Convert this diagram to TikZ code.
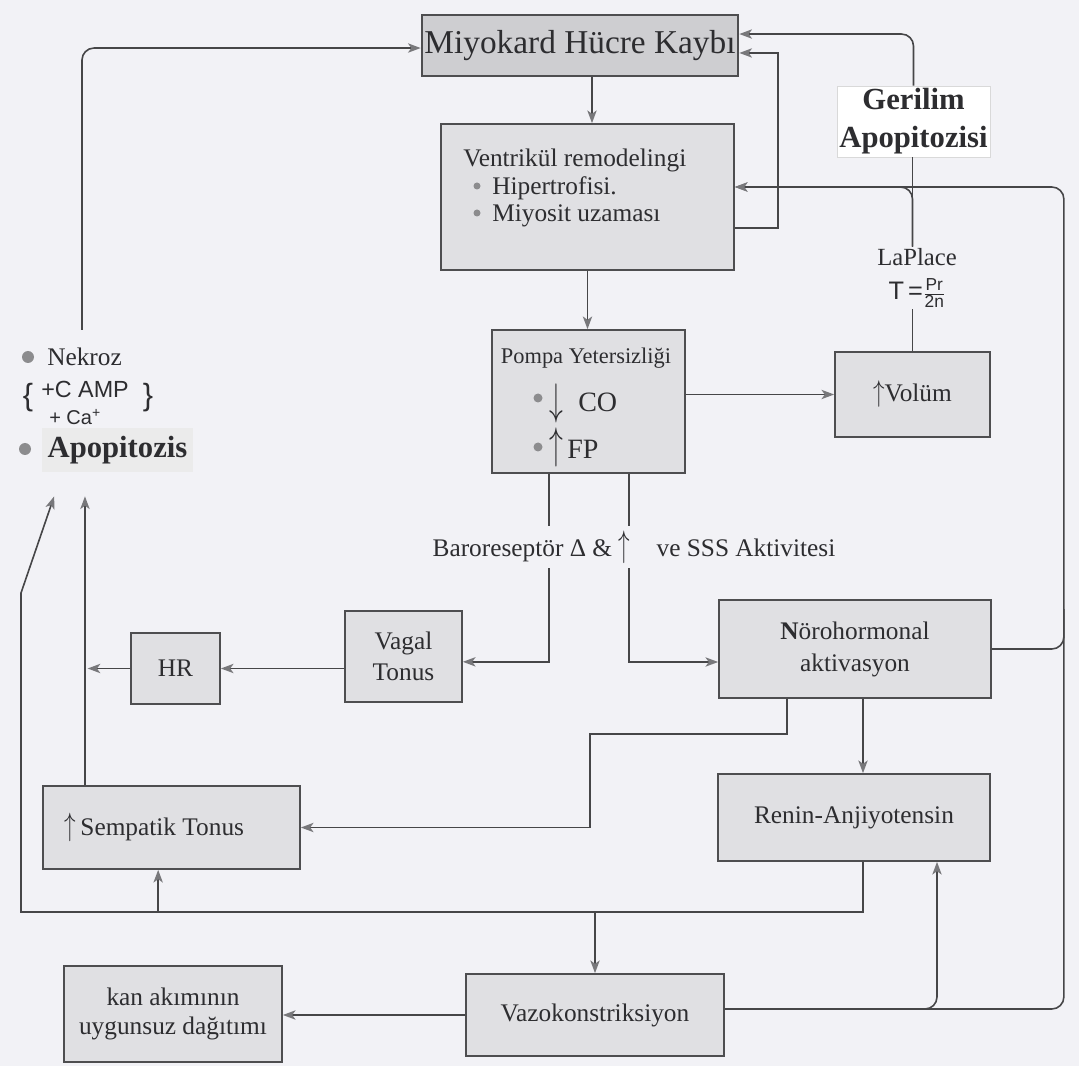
\documentclass[tikz,border=0pt]{standalone}
\usepackage{fontspec}
\setmainfont{Liberation Serif}
\newfontfamily\sansf{Liberation Sans}
\usetikzlibrary{arrows.meta,calc}
\definecolor{bgc}{RGB}{242,242,246}
\definecolor{boxfill}{RGB}{224,224,227}
\definecolor{boxline}{RGB}{78,78,80}
\definecolor{linec}{RGB}{70,70,72}
\definecolor{arrc}{RGB}{120,120,123}
\definecolor{textc}{RGB}{45,45,48}
\definecolor{bulletc}{RGB}{140,140,142}
\newcommand\fsz[2]{\fontsize{#1}{#2}\selectfont}
\tikzset{
  box/.style 2 args={draw=boxline, fill=boxfill, line width=1.3pt,
    minimum width=#1*0.75pt, minimum height=#2*0.75pt, inner sep=0pt, align=center},
  conn/.style={draw=linec, line width=1.2pt},
  arr/.style={conn, -{Stealth[length=9.5pt,width=7pt,inset=2.5pt,color=arrc]}},
  dotn/.style={circle, fill=bulletc, inner sep=0pt, minimum size=#1*0.75pt},
}
\begin{document}
\begin{tikzpicture}[x=0.75pt,y=-0.75pt, every node/.style={text=textc, font=\fsz{19}{23}}]
\fill[bgc] (0,0) rectangle (1079,1066);
\useasboundingbox (0,0) rectangle (1079,1066);

% boxes
\node[box={316}{61}, fill=boxfill!92!black, line width=2pt, font=\fsz{25}{30}] (miy) at (580,45.5) {Miyokard Hücre Kaybı};
\node[box={293}{146}] (ven) at (587.5,197) {};
\node[anchor=west, inner sep=0pt] (vt1) at (463,160) {Ventrikül remodelingi};
\node[dotn=7] (vb1) at (477,186) {};
\node[anchor=west, inner sep=0pt] (vt2) at (492,188) {Hipertrofisi.};
\node[dotn=7] (vb2) at (477,213) {};
\node[anchor=west, inner sep=0pt] (vt3) at (492,216) {Miyosit uzaması};

\node[box={193}{143}] (pom) at (588.5,401.5) {};
\node[inner sep=0pt, font=\fsz{16.8}{20}] (pt) at (586,358) {Pompa Yetersizliği};
\node[dotn=9] (pb1) at (538,398) {};
\node[inner sep=0pt, font=\fsz{20}{20}] (pa1) at (556,403) {\scalebox{1}[1.6]{$\downarrow$}};
\node[anchor=west, inner sep=0pt, font=\fsz{21}{24}] (pco) at (578,402) {CO};
\node[dotn=9] (pb2) at (538,447) {};
\node[inner sep=0pt, font=\fsz{20}{20}] (pa2) at (556,447) {\scalebox{1}[1.6]{$\uparrow$}};
\node[anchor=west, inner sep=0pt, font=\fsz{21}{24}] (pfp) at (567,449) {FP};

\node[box={155}{85}] (vol) at (912.5,394.5) {\scalebox{1}[1.3]{$\uparrow$}Volüm};
\node[box={153}{71}, fill=white, draw=gray!30, line width=0.5pt, font=\bfseries\fsz{23}{28.5}] (ger) at (913.5,121.5) {Gerilim\\Apopitozisi};
\node[inner sep=1pt, align=center, font=\fsz{18.5}{22}] (lap) at (917,278) {LaPlace\\[4pt]{\sansf\fsz{19}{19}T\,=}$\frac{\mbox{\sansf\fsz{13}{13}Pr}}{\mbox{\sansf\fsz{13}{13}2n}}$};

\node[box={117}{91}] (vag) at (403.5,656.5) {Vagal\\Tonus};
\node[box={89}{71}] (hr) at (175.5,668.5) {HR};
\node[box={272}{98}, font=\fsz{19}{24}] (nor) at (855,649) {\textbf{N}örohormonal\\aktivasyon};
\node[box={272}{87}] (ren) at (854,817.5) {Renin-Anjiyotensin};
\node[box={257}{83}] (sem) at (171.5,827.5) {};
\node[anchor=west] (st) at (60,827) {\scalebox{1}[1.4]{$\uparrow$}\,Sempatik Tonus};
\node[box={258}{82}] (vaz) at (595,1015) {Vazokonstriksiyon};
\node[box={218}{96}, font=\fsz{19}{22}] (kan) at (173,1014) {kan akımının\\uygunsuz dağıtımı};

% left texts
\node[dotn=12] (nb) at (28,357) {};
\node[anchor=west, inner sep=0pt] (nek) at (47,357) {Nekroz};
\node[inner sep=0pt, font=\sansf\fsz{23}{23}] (lbr) at (28,398) {\{};
\node[anchor=west, inner sep=0pt, font=\sansf\fsz{17.5}{20}] (camp) at (41,389) {+C AMP};
\node[inner sep=0pt, font=\sansf\fsz{23}{23}] (rbr) at (148,398) {\}};
\node[anchor=west, inner sep=0pt, font=\sansf\fsz{15}{18}] (ca) at (49,417) {+ Ca\textsuperscript{+}};
\node[box={151}{43}, draw=none, fill=gray!16, font=\bfseries\fsz{23}{26}] (apo) at (117.5,450) {Apopitozis};
\node[dotn=12] (ab) at (25,449) {};

% helper coordinates
\coordinate (nektop) at (82,330);
\coordinate (bl) at (21,912);
\coordinate (lk) at (21,593);
\coordinate (semx) at ([xshift=-64.9pt]sem.north);

% connectors
\draw[arr, rounded corners=9pt] (nektop) |- ([yshift=-1.9pt]miy.west);
\draw[arr] ([xshift=9pt]miy.south) -- ([xshift=9pt]miy.south |- ven.north);
\draw[arr] (ven.south) -- (ven.south |- pom.north);
\draw[arr] ([yshift=-23.25pt]ven.east) -- ++(43,0) |- ([yshift=-5.6pt]miy.east);
\draw[arr, rounded corners=9pt] (ger.north) |- ([yshift=8.6pt]miy.east);
\draw[conn] (vol.north) -- (vol.north |- lap.south);
\draw[conn] (vol.north |- lap.north) -- (vol.north |- ger.south);
\draw[arr, rounded corners=9pt] (vol.north |- lap.north) |- ([yshift=7.5pt]ven.east);
\draw[arr, rounded corners=9pt] ([yshift=4.5pt]vaz.east) -- ++(339,0) -- ++(0,-822) -- ([yshift=7.5pt]ven.east);
\draw[conn, rounded corners=9pt] (nor.east) -- ++(72,0) -- ++(0,-40);
\draw[arr, rounded corners=9pt] ([yshift=4.5pt]vaz.east) -| ([xshift=62.25pt]ren.south);
\draw[arr] (pom.east |- vol.west) -- (vol.west);
\draw[arr] ([xshift=-29.6pt]pom.south) |- ([yshift=-4pt]vag.east);
\draw[arr] ([xshift=30.4pt]pom.south) |- ([yshift=-9.75pt]nor.west);
\draw[arr] (vag.west |- hr.east) -- (hr.east);
\draw[arr, shorten >=2pt] (hr.west) -- (hr.west -| semx);
\draw[arr, shorten >=18pt] (semx) -- (semx |- apo.south);
\draw[arr] ([xshift=-51pt]nor.south) -- ++(0,35) -- ++(-197,0) |- (sem.east);
\draw[arr] ([xshift=6pt]nor.south) -- ([xshift=6pt]nor.south |- ren.north);
\draw[arr] ([xshift=6.75pt]ren.south) |- (bl) -- (lk) -- ([xshift=9.75pt,yshift=-18pt]apo.south west);
\draw[arr] (vaz.north |- bl) -- (vaz.north);
\draw[arr] ([xshift=-10pt]sem.south |- bl) -- ([xshift=-10pt]sem.south);
\draw[arr] (vaz.west) -- (vaz.west -| kan.east);

% baroreceptor label over the two lines
\node[fill=bgc, inner xsep=2pt, minimum height=31pt] (baro) at (634,547) {Baroreseptör Δ \& \scalebox{1}[1.6]{$\uparrow$}\hspace{20pt}ve SSS Aktivitesi};
\end{tikzpicture}
\end{document}
